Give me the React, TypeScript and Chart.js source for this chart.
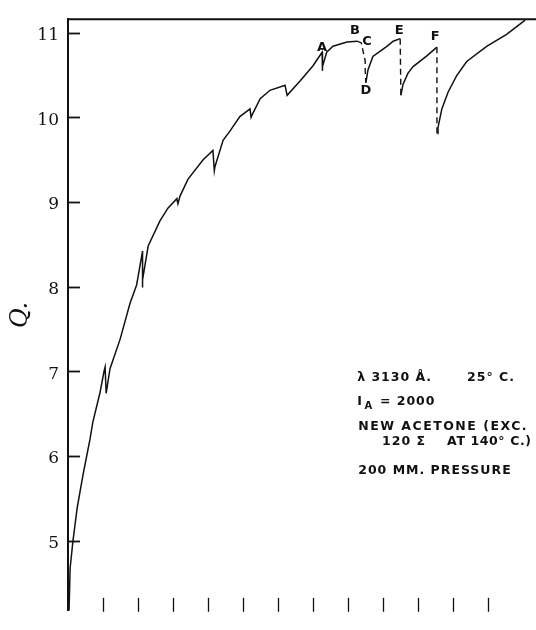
import { useEffect, useRef } from "react";
import { Chart, registerables } from "chart.js";

Chart.register(...registerables);

// Y-axis tick values and x-axis tick positions (no x labels in original)
const yTickValues = [5, 6, 7, 8, 9, 10, 11];
const xTickValues = [1, 2, 3, 4, 5, 6, 7, 8, 9, 10, 11, 12];

// Solid curve (null = break)
const solidX = [
  0.03, 0.06, 0.14, 0.26, 0.43, 0.63, 0.71, 0.91, 1.03, 1.06,
  1.09, 1.2, 1.49, 1.77, 1.96, 2.13,
  2.12, 2.14, 2.29, 2.63, 2.86, 3.11,
  3.14, 3.2, 3.43, 3.86, 4.14,
  4.18, 4.2, 4.43, 4.63, 4.91, 5.2,
  5.23, 5.26, 5.49, 5.77, 6.2,
  6.26, 6.63, 7.0, 7.26,
  7.26, 7.28, 7.39, 7.57, 7.97, 8.26,
  null,
  8.51, 8.57, 8.71, 8.91, 9.11, 9.29, 9.49,
  null,
  9.51, 9.57, 9.71, 9.86, 10.26, 10.54,
  null,
  10.55, 10.57, 10.68, 10.86, 11.1, 11.39, 11.96, 12.53, 13.06,
];
const solidY = [
  4.17, 4.67, 4.99, 5.38, 5.78, 6.2, 6.4, 6.74, 7.0, 7.05,
  6.74, 7.03, 7.38, 7.8, 8.02, 8.42,
  7.99, 8.08, 8.48, 8.78, 8.93, 9.04,
  8.98, 9.07, 9.27, 9.5, 9.61,
  9.37, 9.42, 9.73, 9.84, 10.01, 10.1,
  10.0, 10.03, 10.22, 10.32, 10.38,
  10.26, 10.43, 10.61, 10.77,
  10.55, 10.6, 10.77, 10.84, 10.89, 10.9,
  null,
  10.41, 10.56, 10.72, 10.78, 10.84, 10.9, 10.93,
  null,
  10.26, 10.39, 10.52, 10.6, 10.73, 10.83,
  null,
  9.81, 9.88, 10.1, 10.3, 10.49, 10.66, 10.84, 10.98, 11.15,
];

// Dashed connections B-C-D, E drop, F drop
const dashedX = [8.26, 8.38, 8.43, 8.49, 8.49, 8.51, null, 9.49, 9.51, null, 10.54, 10.54];
const dashedY = [10.9, 10.88, 10.78, 10.67, 10.56, 10.41, null, 10.93, 10.26, null, 10.83, 9.81];

// Point letters
const letterText = ["A", "B", "C", "D", "E", "F"];
const letterX = [7.26, 8.2, 8.54, 8.51, 9.46, 10.49];
const letterY = [10.83, 11.03, 10.9, 10.32, 11.02, 10.95];

// Note texts
const noteText = [
  "λ 3130 Å.",
  "25° C.",
  "I",
  "= 2000",
  "NEW ACETONE (EXC.",
  "120 Σ",
  "AT 140° C.)",
  "200 MM. PRESSURE",
];
const noteX = [8.26, 11.4, 8.26, 8.91, 8.29, 8.97, 10.83, 8.29];
const noteY = [6.92, 6.92, 6.64, 6.64, 6.34, 6.17, 6.17, 5.83];
const noteSpacing = ["1px", "1px", "0px", "1px", "1.5px", "1px", "0.6px", "1px"];
const subText = "A";
const subX = 8.47;
const subY = 6.58;

function toPoints(xs: (number | null)[], ys: (number | null)[]) {
  return xs.map((x, i) =>
    x === null || ys[i] === null ? { x: NaN, y: null } : { x, y: ys[i] }
  );
}

const framePlugin = {
  id: "frame",
  afterDraw(chart: any) {
    const ctx = chart.ctx as CanvasRenderingContext2D;
    const { left, top, bottom } = chart.chartArea;
    const xs = chart.scales.x;
    const ys = chart.scales.y;
    ctx.save();
    ctx.strokeStyle = "#111";
    ctx.lineWidth = 2;
    // top frame line
    ctx.beginPath();
    ctx.moveTo(left, top);
    ctx.lineTo(chart.width, top);
    ctx.stroke();
    // y ticks inside
    ctx.lineWidth = 1.8;
    for (const v of yTickValues) {
      const py = Math.round(ys.getPixelForValue(v)) + 0.5;
      ctx.beginPath();
      ctx.moveTo(left, py);
      ctx.lineTo(left + 12, py);
      ctx.stroke();
    }
    // x ticks inside from bottom
    ctx.lineWidth = 1.3;
    for (const v of xTickValues) {
      const px = Math.round(xs.getPixelForValue(v)) + 0.5;
      ctx.beginPath();
      ctx.moveTo(px, bottom + 1);
      ctx.lineTo(px, bottom - 13);
      ctx.stroke();
    }
    // letters
    ctx.fillStyle = "#111";
    ctx.textAlign = "center";
    ctx.textBaseline = "middle";
    ctx.font = 'bold 13px "DejaVu Sans"';
    letterText.forEach((t, i) => {
      ctx.fillText(t, xs.getPixelForValue(letterX[i]), ys.getPixelForValue(letterY[i]));
    });
    // notes
    ctx.textAlign = "left";
    ctx.font = 'bold 12.5px "DejaVu Sans"';
    noteText.forEach((t, i) => {
      (ctx as any).letterSpacing = noteSpacing[i];
      ctx.fillText(t, xs.getPixelForValue(noteX[i]), ys.getPixelForValue(noteY[i]));
    });
    (ctx as any).letterSpacing = "0px";
    ctx.font = 'bold 10px "DejaVu Sans"';
    ctx.fillText(subText, xs.getPixelForValue(subX), ys.getPixelForValue(subY));
    ctx.restore();
  },
};

export default function App() {
  const ref = useRef<HTMLCanvasElement | null>(null);
  useEffect(() => {
    document.body.style.margin = "0";
    if (!ref.current) return;
    const chart = new Chart(ref.current, {
      type: "line",
      data: {
        datasets: [
          {
            data: toPoints(solidX, solidY) as any,
            borderColor: "#111",
            borderWidth: 1.5,
            pointRadius: 0,
            tension: 0,
            spanGaps: false,
            fill: false,
          },
          {
            data: toPoints(dashedX, dashedY) as any,
            borderColor: "#111",
            borderWidth: 1.4,
            borderDash: [6, 4],
            pointRadius: 0,
            tension: 0,
            spanGaps: false,
            fill: false,
          },
        ],
      },
      options: {
        animation: false,
        responsive: false,
        events: [],
        layout: { padding: { top: 14, right: 0, bottom: 0, left: 0 } },
        plugins: { legend: { display: false }, tooltip: { enabled: false } },
        scales: {
          x: {
            type: "linear",
            min: 0,
            max: 13.37,
            grid: { display: false },
            border: { display: false },
            ticks: { display: false },
            afterFit: (s: any) => {
              s.height = 1;
            },
          },
          y: {
            type: "linear",
            min: 4.17,
            max: 11.16,
            grid: { display: false, drawTicks: false },
            border: { display: true, color: "#111", width: 2 },
            afterBuildTicks: (s: any) => {
              s.ticks = yTickValues.map((v) => ({ value: v }));
            },
            ticks: {
              padding: 9,
              labelOffset: 3,
              color: "#111",
              font: { family: "'DejaVu Serif'", size: 17 },
              callback: (v: any) => String(v),
            },
            title: {
              display: true,
              text: "Q.",
              color: "#111",
              font: { family: "'DejaVu Serif'", size: 24, style: "italic" },
              padding: { top: 6, bottom: 0 },
            },
            afterFit: (s: any) => {
              s.width = 68;
            },
          },
        },
      },
      plugins: [framePlugin],
    });
    return () => chart.destroy();
  }, []);
  return (
    <div style={{ position: "absolute", left: 0, top: 0, width: 536, height: 630 }}>
      <canvas ref={ref} width={536} height={630} />
    </div>
  );
}
